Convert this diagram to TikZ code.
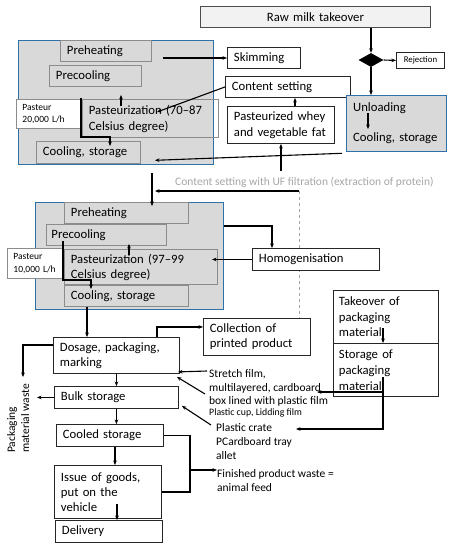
\documentclass[tikz,border=0pt]{standalone}
\usepackage{fontspec}
\setmainfont{Carlito}
\usetikzlibrary{arrows.meta, shapes.geometric}

\definecolor{boxgray}{HTML}{D9D9D9}
\definecolor{palegray}{HTML}{F2F2F2}
\definecolor{frameblue}{HTML}{2E6FAC}
\definecolor{edgegray}{HTML}{8C8C8C}
\definecolor{ufgray}{HTML}{A6A6A6}

\begin{document}
\begin{tikzpicture}[
    x=1pt, y=-1pt,
    font=\fontsize{12.7}{15}\selectfont,
    every node/.style={inner ysep=0pt, inner xsep=6.5pt, anchor=north west, align=left},
    group/.style={draw=frameblue, line width=1.3pt, fill=boxgray, inner sep=0pt},
    inbox/.style={draw=edgegray, line width=0.9pt},
    wbox/.style={draw=black!85, fill=white, line width=0.9pt},
    note/.style={font=\fontsize{11.5}{13.5}\selectfont, inner sep=0pt},
    small/.style={font=\fontsize{9.5}{12.5}\selectfont, inner xsep=6pt},
    flow/.style={-{Stealth[length=4.5pt,width=3.6pt]}, line width=1.1pt}
]
\useasboundingbox (0,0) rectangle (454,550);

\node[wbox, fill=palegray, draw=black!70, text width=217, minimum height=21, align=center] (raw) at (200,6) {Raw milk takeover};

\node[group, minimum width=195, minimum height=124] (top1) at (18,40) {};
\node[inbox, text width=78, minimum height=21] (pre1) at (60,40) {Preheating};
\node[inbox, text width=79, minimum height=21] (cool1) at (49,65) {Precooling};
\node[inbox, text width=123, minimum height=38, font=\fontsize{12.7}{16}\selectfont] (pas1) at (82,99) {Pasteurization (70–87\\Celsius degree)};
\node[inbox, small, fill=white, text width=54, minimum height=29] (pst1) at (16,99) {Pasteur\\20,000 L/h};
\node[inbox, text width=91, minimum height=22] (sto1) at (36,141) {Cooling, storage};

\node[wbox, text width=60, minimum height=21] (skim) at (227,47) {Skimming};
\node[wbox, text width=112, minimum height=21] (cset) at (225,76) {Content setting};
\node[wbox, text width=94, minimum height=37, font=\fontsize{12.7}{16}\selectfont] (whey) at (227,106) {Pasteurized whey\\and vegetable fat};

\node[diamond, fill=black, minimum width=25, minimum height=14, inner sep=0pt, anchor=center] (dia) at (371,60) {};
\node[wbox, minimum width=48, minimum height=16, inner xsep=2pt, align=center, font=\fontsize{8.8}{10}\selectfont] (rej) at (396,52) {Rejection};
\node[group, minimum width=100, minimum height=56, inner xsep=6.5pt, text width=87, font=\fontsize{12.7}{15}\selectfont] (unl) at (346,95) {Unloading\\[15pt]Cooling, storage};

\node[note, text=ufgray, anchor=west] (uftxt) at (175,182) {Content setting with UF filtration (extraction of protein)};

\node[group, minimum width=188, minimum height=107] (box2) at (35,202) {};
\node[inbox, text width=111, minimum height=21] (pre2) at (64,202) {Preheating};
\node[inbox, text width=110, minimum height=21, inner xsep=5pt] (cool2) at (46,224) {Precooling};
\node[inbox, text width=140, minimum height=35] (pas2) at (64,249) {Pasteurization (97–99\\Celsius degree)};
\node[inbox, small, fill=white, text width=44, minimum height=30, font=\fontsize{9.5}{13}\selectfont] (pst2) at (7,248) {Pasteur\\10,000 L/h};
\node[inbox, text width=111, minimum height=21] (sto2) at (64,285) {Cooling, storage};

\node[wbox, text width=94, minimum height=37] (coll) at (203,318) {Collection of\\printed product};
\coordinate (uf) at (299,191);
\draw[ufgray, dashed, line width=0.8pt] (uf) -- (uf |- coll.north);
\node[wbox, text width=114, minimum height=22] (homo) at (252,248) {Homogenisation};

\node[wbox, text width=94, minimum height=53, inner xsep=5.5pt, font=\fontsize{12.7}{15.5}\selectfont] (take) at (333,290) {Takeover of\\packaging\\material};
\node[wbox, text width=94, minimum height=53, inner xsep=5.5pt, font=\fontsize{12.7}{16}\selectfont] (stor) at (333,343) {Storage of\\packaging\\material};

\node[wbox, text width=113, minimum height=36] (dos) at (53,337) {Dosage, packaging,\\marking};
\node[wbox, text width=111, minimum height=22] (bulk) at (54,386) {Bulk storage};
\node[wbox, text width=94, minimum height=22] (cld) at (56,424) {Cooled storage};
\node[wbox, text width=94, minimum height=53] (iss) at (54,465) {Issue of goods,\\put on the\\vehicle};
\node[wbox, text width=94, minimum height=22] (dlv) at (55,520) {Delivery};

\node[note, rotate=90, font=\fontsize{11.5}{14}\selectfont] (waste) at (7,453) {Packaging\\material waste};
\node[note] (stretch) at (209,369.5) {Stretch film,\\multilayered, cardboard\\box lined with plastic film};
\node[note, font=\fontsize{9.8}{12}\selectfont] (plast) at (209,408.5) {Plastic cup, Lidding film};
\node[note, font=\fontsize{11.5}{14}\selectfont] (crate) at (216,423.5) {Plastic crate\\PCardboard tray\\allet};
\node[note] (fin) at (217,469.5) {Finished product waste =\\animal feed};

\draw[flow] (dia.north |- raw.south) -- (dia.north);
\draw[flow] (dia.east) -- (rej.west);
\draw[flow] (dia.south) -- (dia.south |- unl.north);
\draw[flow] ([shift={(22,18)}]unl.north west) -- ([shift={(22,34)}]unl.north west);
\draw[flow] ([xshift=-64pt]skim.west) -- (skim.west);
\draw[flow] (cset.west) -- ([shift={(75,13)}]pas1.north west);
\draw[flow] ([xshift=68pt]whey.north west) -- ([xshift=70pt]cset.south west);
\draw[flow] ([yshift=-27pt]whey.south) -- (whey.south);
\draw[flow] ([shift={(-4,1)}]unl.south west) -- ([shift={(137,-5)}]top1.south west);
\draw[flow] ([shift={(32,11)}]cool1.south west) |- ([shift={(74,-4)}]sto1.north west) -- ([shift={(74,5)}]sto1.north west);
\draw[flow] ([shift={(39,7)}]pas1.north west) -- ([shift={(72,8)}]cool1.south west);

\draw[flow] ([shift={(134,8)}]top1.south west) -- ([shift={(88,4)}]pre2.north west);
\draw[flow] (uf) -- ([shift={(91,-11)}]pre2.north west);
\draw[flow] ([yshift=-24pt]box2.north east) -| ([xshift=20pt]homo.north west);
\draw[flow] (homo.west) -- ([xshift=-40pt]homo.west);
\draw[flow] ([shift={(17,-5)}]cool2.south west) |- ([shift={(27,-5)}]sto2.north west) -- ([shift={(27,4)}]sto2.north west);
\draw[flow] ([shift={(65,6)}]pas2.north west) -- ([shift={(83,-2)}]cool2.south west);
\draw[flow] ([xshift=23pt]sto2.south west) -- ([xshift=34pt]dos.north west);
\draw[flow] ([xshift=104pt]dos.north west) |- ([yshift=10pt]coll.west);

\coordinate (wtop) at (23,377);
\draw[flow] ([yshift=-8pt]dos.north west) -| (wtop);
\draw[flow] (bulk.west) -- ++(-17,0);
\draw[flow] (dos.south) -- (bulk.north);
\draw[flow] (bulk.south) -- (bulk.south |- cld.north);
\draw[flow] ([xshift=5pt]cld.south) -- ([xshift=7pt]iss.north);
\draw[flow] ([shift={(63,-15)}]iss.south west) -- ([xshift=62pt]dlv.north west);
\coordinate (fb) at (190,470);
\draw[line width=1.1pt] (cld.east) -| (fb) |- (iss.east);
\draw[flow] (fb) -- (fb -| fin.west);

\draw[flow] ([shift={(-2,1.5)}]stretch.north west) -- ([shift={(-2,-2)}]dos.south east);
\draw[flow] ([shift={(-4,24.5)}]stretch.north west) -- ([shift={(-3,3)}]dos.south east);
\draw[flow] ([shift={(-5,1.5)}]crate.north west) -- ([shift={(3,-3)}]bulk.south east);
\draw[flow] ([shift={(50,38)}]take.north west) -- ([xshift=50pt]stor.north west);
\draw[flow] ([shift={(50,34)}]stor.north west) |- ([shift={(80,5.5)}]crate.north west);
\draw[flow] ([shift={(50,49)}]stor.north west) -- ++(-66,0);

\end{tikzpicture}
\end{document}
